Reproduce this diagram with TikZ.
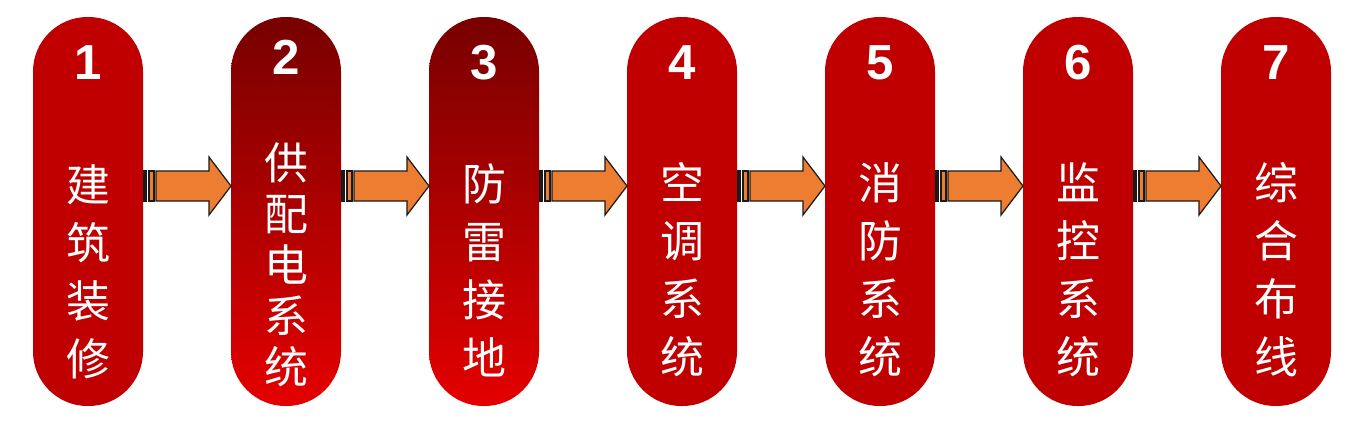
\documentclass[tikz,border=0pt]{standalone}
\usepackage{fontspec}
\setmainfont{Liberation Sans}
\newfontfamily\cjk{Noto Sans CJK SC}
\usetikzlibrary{positioning, calc}
\definecolor{pillred}{HTML}{C00000}
\definecolor{darkred}{HTML}{780000}
\definecolor{brightred}{HTML}{E40000}
\definecolor{arrorange}{HTML}{ED7D31}
\definecolor{arrline}{HTML}{1A1A1A}

\begin{document}
\begin{tikzpicture}[
  node distance=1.76cm,
  pill/.style={rectangle, fill=pillred, rounded corners=1.09cm,
               minimum width=2.2cm, minimum height=7.78cm,
               inner sep=0pt, outer sep=0pt},
  gpill/.style={rectangle, top color=darkred, bottom color=brightred,
                rounded corners=1.09cm,
                minimum width=2.2cm, minimum height=7.78cm,
                inner sep=0pt, outer sep=0pt},
  num/.style={text=white, font=\fontsize{28}{30}\selectfont\bfseries},
  txt/.style={text=white, align=center, inner sep=0pt,
              font=\cjk\fontsize{25}{33}\selectfont},
  txtfive/.style={text=white, align=center, inner sep=0pt,
                  font=\cjk\fontsize{25}{29}\selectfont},
  arrbody/.style={fill=arrorange, draw=arrline, line width=0.7pt, line join=miter},
  stripe/.style={fill=arrorange, draw=arrline, line width=0.6pt}
]
\useasboundingbox (0,0) rectangle (27.12,-8.56);

\node[pill] (s1) at (1.76,-4.23) {};
\node[gpill, right=of s1] (s2) {};
\node[gpill, right=of s2] (s3) {};
\node[pill, right=of s3]  (s4) {};
\node[pill, right=of s4]  (s5) {};
\node[pill, right=of s5]  (s6) {};
\node[pill, right=of s6]  (s7) {};

\node[num] (n1) at ([yshift=-0.92cm]s1.north) {1};
\node[num] (n2) at ([yshift=-0.80cm]s2.north) {2};
\node[num] (n3) at ([yshift=-0.92cm]s3.north) {3};
\node[num] (n4) at ([yshift=-0.92cm]s4.north) {4};
\node[num] (n5) at ([yshift=-0.92cm]s5.north) {5};
\node[num] (n6) at ([yshift=-0.92cm]s6.north) {6};
\node[num] (n7) at ([yshift=-0.92cm]s7.north) {7};

\node[txt]     (t1) at ([yshift=-5.10cm]s1.north) {建\\筑\\装\\修};
\node[txtfive] (t2) at ([yshift=-4.96cm]s2.north) {供\\配\\电\\系\\统};
\node[txt]     (t3) at ([yshift=-5.06cm]s3.north) {防\\雷\\接\\地};
\node[txt]     (t4) at ([yshift=-5.06cm]s4.north) {空\\调\\系\\统};
\node[txt]     (t5) at ([yshift=-5.06cm]s5.north) {消\\防\\系\\统};
\node[txt]     (t6) at ([yshift=-5.06cm]s6.north) {监\\控\\系\\统};
\node[txt]     (t7) at ([yshift=-5.06cm]s7.north) {综\\合\\布\\线};

% striped block arrows between the pills
\foreach \i [evaluate=\i as \j using int(\i+1)] in {1,...,6} {
  \coordinate (a\i) at ([yshift=0.51cm]s\i.east);
  \coordinate (b\i) at ([yshift=0.51cm]s\j.west);
  \draw[stripe] (a\i) ++(0.02,-0.30) rectangle ++(0.04,0.60);
  \draw[stripe] (a\i) ++(0.12,-0.30) rectangle ++(0.10,0.60);
  \draw[arrbody] (a\i) ++(0.26,0.30) -- ++(1.06,0) -- ++(0,0.28) -- (b\i)
    -- ++(-0.44,-0.58) -- ++(0,0.28) -- ++(-1.06,0) -- cycle;
}
\end{tikzpicture}
\end{document}
